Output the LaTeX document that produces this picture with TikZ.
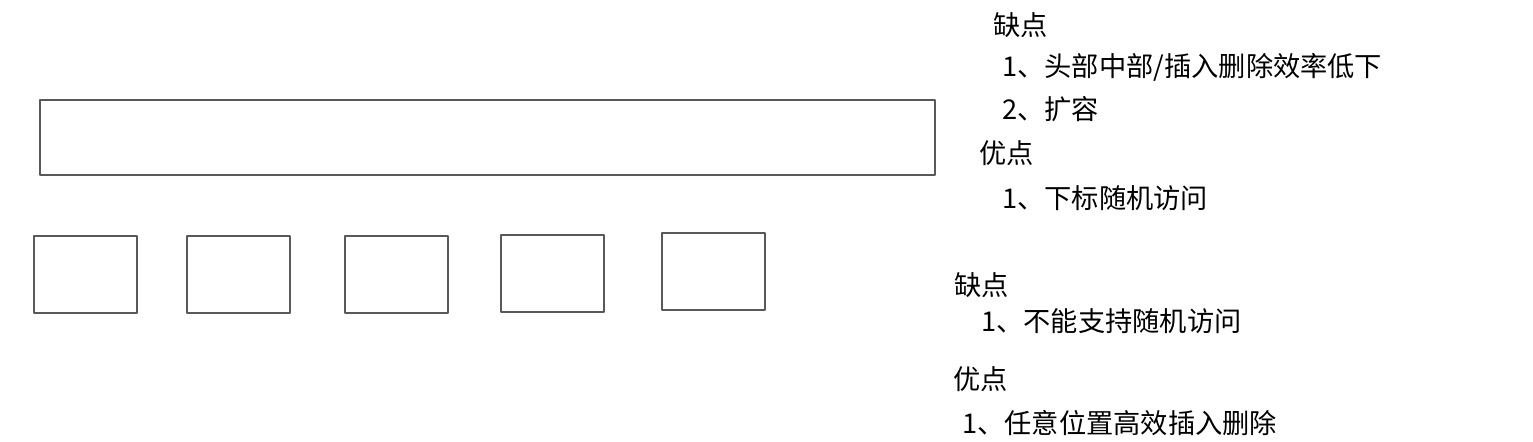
\documentclass[tikz,border=0pt]{standalone}
\usepackage{fontspec}
\setmainfont{Noto Sans CJK SC}
\tikzset{cell/.style={draw=black!65,line width=0.8pt},
	note/.style={anchor=west,inner sep=0pt,font=\fontsize{15.5pt}{18pt}\selectfont}}
\begin{document}
\begin{tikzpicture}[line join=round,x=0.02cm,y=-0.02cm]
\useasboundingbox (0,0) rectangle (1533,441);
% array
\draw[cell] (40,100) rectangle (935,175);
% list nodes
\foreach \a/\b in {34/236,187/236,345/236,501/235,662/233}
	\draw[cell] (\a,\b) rectangle ++(103,77);
% notes for the array
\node[note] (arrcon) at (993,25) {缺点};
\node[note] (arrcon1) at (1002,67) {1、头部中部/插入删除效率低下};
\node[note] (arrcon2) at (1002,109) {2、扩容};
\node[note] (arrpro) at (979,153) {优点};
\node[note] (arrpro1) at (1002,198) {1、下标随机访问};
% notes for the list
\node[note] (lstcon) at (954,285) {缺点};
\node[note] (lstcon1) at (981,321) {1、不能支持随机访问};
\node[note] (lstpro) at (953,379) {优点};
\node[note] (lstpro1) at (962,423) {1、任意位置高效插入删除};
\end{tikzpicture}
\end{document}
